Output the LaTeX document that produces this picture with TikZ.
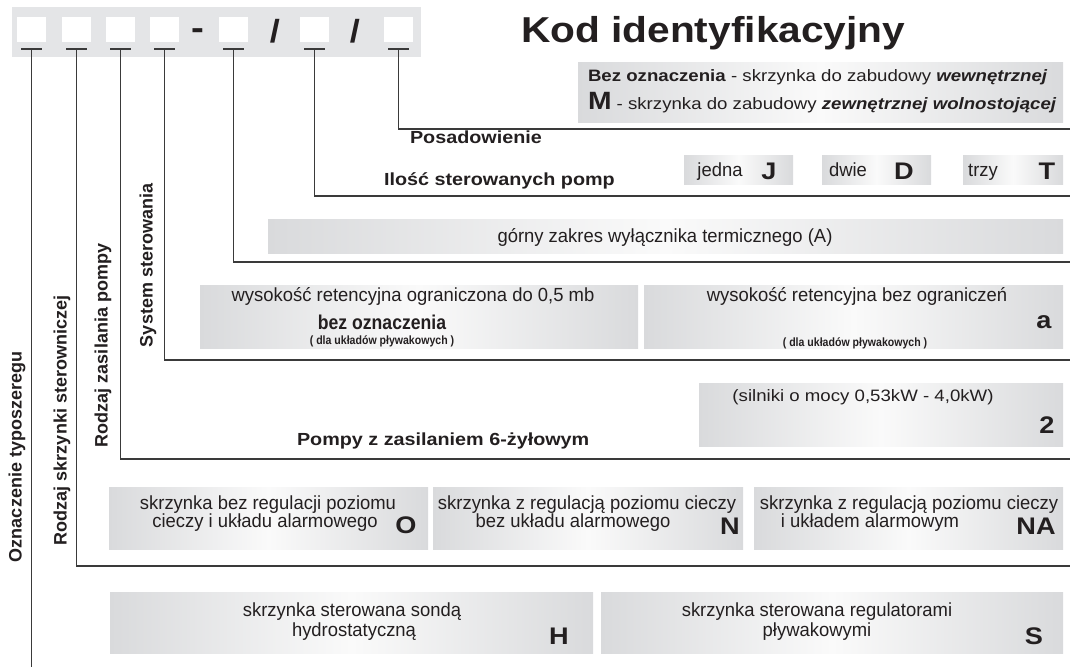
\documentclass[tikz,border=0pt]{standalone}
\usepackage{fontspec}
\setmainfont{Liberation Sans}[FakeStretch=1.13]
\newfontfamily\sidefont{Liberation Sans}
\newfontfamily\boxfont{Liberation Sans}[FakeStretch=0.97]
\newfontfamily\narrowfont{Liberation Sans}[FakeStretch=0.88]
\usepackage{tikz}
\usetikzlibrary{calc}
\definecolor{inkBlack}{RGB}{35,31,32}
\definecolor{leadGray}{RGB}{58,58,58}
\definecolor{bandGray}{RGB}{228,229,231}
\definecolor{boxEdge}{RGB}{217,218,220}
\definecolor{boxMid}{RGB}{250,250,250}
\newcommand{\pxs}[1]{\fontsize{#1}{#1}\selectfont}

\begin{document}
\begin{tikzpicture}[
  x=1pt, y=-1pt,
  every node/.style={text=inkBlack, inner sep=0pt, outer sep=0pt},
  codebox/.style={fill=white, minimum width=29pt, minimum height=25pt},
  panel/.style={
    anchor=north west,
    left color=boxEdge,
    right color=boxEdge,
    middle color=boxMid
  },
  lead/.style={draw=leadGray, line width=1.6pt},
  boxtxt/.style={anchor=base, font=\boxfont\pxs{19}},
  smalltxt/.style={anchor=base, font=\narrowfont\bfseries\pxs{12}},
  bigletter/.style={anchor=base, font=\bfseries\pxs{24}},
  heading/.style={anchor=base west, font=\bfseries\pxs{17.5}},
  sidetitle/.style={anchor=west, rotate=90, font=\sidefont\bfseries\pxs{18}}
]
  \useasboundingbox (0,0) rectangle (1070,667);

  % code row
  \node[fill=bandGray, anchor=north west, minimum width=409pt,
        minimum height=50pt] (band) at (12,7) {};
  \node[codebox] (c1) at (31.5,29.5) {};
  \node[codebox] (c2) at (76.5,29.5) {};
  \node[codebox] (c3) at (120.5,29.5) {};
  \node[codebox] (c4) at (164.5,29.5) {};
  \node[anchor=base, font=\bfseries\pxs{34}] (dash) at (197.5,39) {-};
  \node[codebox] (c5) at (233.5,29.5) {};
  \node[anchor=base, font=\bfseries\pxs{32}] (slash1) at (275,42) {/};
  \node[codebox] (c6) at (314.5,29.5) {};
  \node[anchor=base, font=\bfseries\pxs{32}] (slash2) at (355,42) {/};
  \node[codebox] (c7) at (398.5,29.5) {};

  \node[anchor=base west, font=\bfseries\pxs{36}] (title) at (521,42)
    {Kod identyfikacyjny};

  % leads from the code boxes
  \coordinate (end-c1) at (31.5,667);
  \draw[lead] ($(c1.south)+(-10.5,7)$) -- ($(c1.south)+(10.5,7)$);
  \draw[lead] ($(c1.south)+(0,7)$) -- (end-c1);
  \foreach \c/\y in {c2/566,c3/459,c4/360,c5/262,c6/196,c7/129}{
    \coordinate (end-\c) at (1070,\y);
    \draw[lead] ($(\c.south)+(-10.5,7)$) -- ($(\c.south)+(10.5,7)$);
    \draw[lead] ($(\c.south)+(0,7)$) |- (end-\c);
  }

  % side titles
  \node[sidetitle] (typoTitle) at (17,562) {Oznaczenie typoszeregu};
  \node[sidetitle] (caseTitle) at (62,545) {Rodzaj skrzynki sterowniczej};
  \node[sidetitle] (powerTitle) at (103,447) {Rodzaj zasilania pompy};
  \node[sidetitle] (ctrlTitle) at (148,347) {System sterowania};

  % Posadowienie
  \node[panel, minimum width=485pt, minimum height=60pt] (posBox) at (578,62) {};
  \node[anchor=base west, font=\pxs{16.5}] (posLineA) at (588,81)
    {\textbf{Bez oznaczenia} - skrzynka do zabudowy \textbf{\textit{wewnętrznej}}};
  \node[anchor=base west, font=\pxs{16.5}] (posLineB) at (588,109)
    {{\bfseries\pxs{25}M} - skrzynka do zabudowy \textbf{\textit{zewnętrznej wolnostojącej}}};
  \node[heading] (posTitle) at (410,143) {Posadowienie};

  % number of pumps
  \node[heading] (pumpTitle) at (384,185) {Ilość sterowanych pomp};
  \node[panel, minimum width=109pt, minimum height=29pt] (oneBox) at (684,155) {};
  \node[boxtxt] (oneTxt) at (720,176) {jedna};
  \node[bigletter] (oneLet) at (769,179) {J};
  \node[panel, minimum width=109pt, minimum height=29pt] (twoBox) at (822,155) {};
  \node[boxtxt] (twoTxt) at (848,176) {dwie};
  \node[bigletter] (twoLet) at (904,179) {D};
  \node[panel, minimum width=100pt, minimum height=29pt] (threeBox) at (963,155) {};
  \node[boxtxt] (threeTxt) at (983,176) {trzy};
  \node[bigletter] (threeLet) at (1047,179) {T};

  % thermal switch
  \node[panel, minimum width=795pt, minimum height=34pt] (thermBox) at (268,219) {};
  \node[boxtxt] (thermTxt) at (665,242) {górny zakres wyłącznika termicznego (A)};

  % control system
  \node[panel, minimum width=438pt, minimum height=63pt] (limBox) at (200,285) {};
  \node[boxtxt] (limTxt) at (413,301) {wysokość retencyjna ograniczona do 0,5 mb};
  \node[anchor=base, font=\narrowfont\bfseries\pxs{20}] (limMark) at (382,329) {bez oznaczenia};
  \node[smalltxt] (limNote) at (382,344) {( dla układów pływakowych )};
  \node[panel, minimum width=419pt, minimum height=63pt] (freeBox) at (644,285) {};
  \node[boxtxt] (freeTxt) at (857,301) {wysokość retencyjna bez ograniczeń};
  \node[bigletter] (freeLet) at (1044,328) {a};
  \node[smalltxt] (freeNote) at (855,346) {( dla układów pływakowych )};

  % power supply
  \node[panel, minimum width=364pt, minimum height=63pt] (motorBox) at (699,383) {};
  \node[anchor=base, font=\pxs{16.5}] (motorTxt) at (863,401) {(silniki o mocy 0,53kW - 4,0kW)};
  \node[bigletter] (motorLet) at (1047,433) {2};
  \node[heading] (supplyTitle) at (297,445) {Pompy z zasilaniem 6-żyłowym};

  % control box type
  \node[panel, minimum width=319pt, minimum height=62pt] (oBox) at (109,487) {};
  \node[boxtxt] (oTxtA) at (268,509) {skrzynka bez regulacji poziomu};
  \node[boxtxt] (oTxtB) at (265,527) {cieczy i układu alarmowego};
  \node[bigletter] (oLet) at (406,533) {O};
  \node[panel, minimum width=310pt, minimum height=62pt] (nBox) at (433,487) {};
  \node[boxtxt] (nTxtA) at (587,509) {skrzynka z regulacją poziomu cieczy};
  \node[boxtxt] (nTxtB) at (573,527) {bez układu alarmowego};
  \node[bigletter] (nLet) at (730,534) {N};
  \node[panel, minimum width=309pt, minimum height=62pt] (naBox) at (754,487) {};
  \node[boxtxt] (naTxtA) at (909,509) {skrzynka z regulacją poziomu cieczy};
  \node[boxtxt] (naTxtB) at (870,527) {i układem alarmowym};
  \node[bigletter] (naLet) at (1036,534) {NA};

  % type series
  \node[panel, minimum width=483pt, minimum height=61pt] (hBox) at (110,592) {};
  \node[boxtxt] (hTxtA) at (352,616) {skrzynka sterowana sondą};
  \node[boxtxt] (hTxtB) at (354,636) {hydrostatyczną};
  \node[bigletter] (hLet) at (559,644) {H};
  \node[panel, minimum width=462pt, minimum height=61pt] (sBox) at (601,592) {};
  \node[boxtxt] (sTxtA) at (817,616) {skrzynka sterowana regulatorami};
  \node[boxtxt] (sTxtB) at (817,636) {pływakowymi};
  \node[bigletter] (sLet) at (1034,644) {S};
\end{tikzpicture}
\end{document}
